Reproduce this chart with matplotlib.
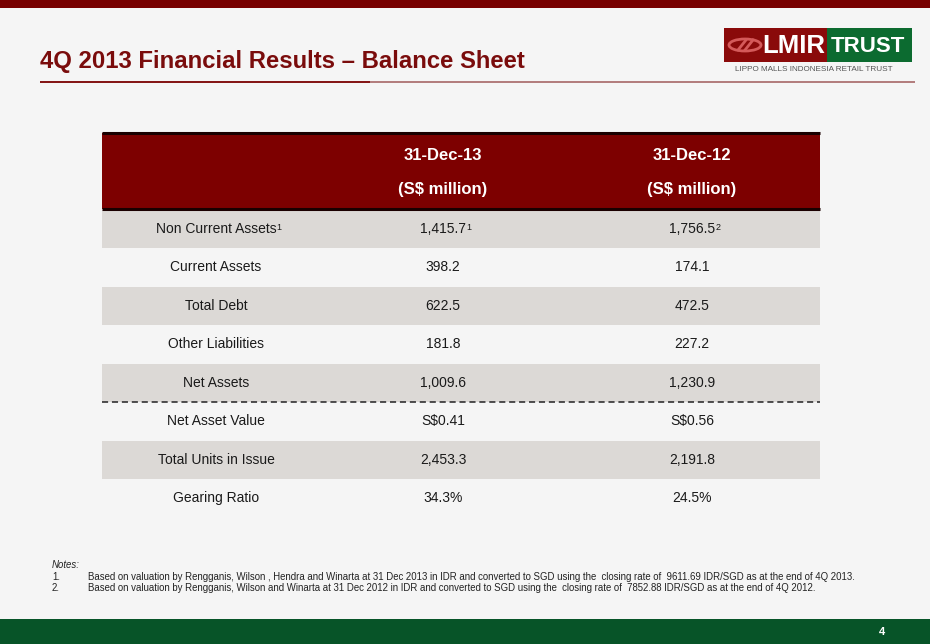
import matplotlib
matplotlib.use("Agg")
import matplotlib.pyplot as plt
from matplotlib.patches import Rectangle, Ellipse

# ---------------- data ----------------
title = "4Q 2013 Financial Results \u2013 Balance Sheet"
col_headers = ["31-Dec-13", "31-Dec-12"]
col_unit = "(S$ million)"
row_labels = ["Non Current Assets", "Current Assets", "Total Debt", "Other Liabilities",
              "Net Assets", "Net Asset Value", "Total Units in Issue", "Gearing Ratio"]
label_sups = ["1", "", "", "", "", "", "", ""]
dec13_values = ["1,415.7", "398.2", "622.5", "181.8", "1,009.6", "S$0.41", "2,453.3", "34.3%"]
dec13_sups = ["1", "", "", "", "", "", "", ""]
dec12_values = ["1,756.5", "174.1", "472.5", "227.2", "1,230.9", "S$0.56", "2,191.8", "24.5%"]
dec12_sups = ["2", "", "", "", "", "", "", ""]
notes_title = "Notes:"
note_numbers = ["1.", "2."]
note_texts = [
    "Based on valuation by Rengganis, Wilson , Hendra and Winarta at 31 Dec 2013 in IDR and converted to SGD using the  closing rate of  9611.69 IDR/SGD as at the end of 4Q 2013.",
    "Based on valuation by Rengganis, Wilson and Winarta at 31 Dec 2012 in IDR and converted to SGD using the  closing rate of  7852.88 IDR/SGD as at the end of 4Q 2012.",
]
page_number = "4"
logo_left = "LMIR"
logo_right = "TRUST"
logo_sub = "LIPPO MALLS INDONESIA RETAIL TRUST"

# ---------------- style ----------------
BG = "#f5f5f5"
DARK_RED = "#7d0000"
TITLE_RED = "#7a0c0c"
ROW_GREY = "#dcd9d6"
GREEN = "#075428"
FONT = ["Liberation Sans", "DejaVu Sans"]

plt.rcParams["font.family"] = FONT

fig = plt.figure(figsize=(9.3, 6.44), dpi=100, facecolor=BG)
ax = fig.add_axes([0, 0, 1, 1])
ax.set_xlim(0, 930)
ax.set_ylim(644, 0)
ax.axis("off")
ax.set_facecolor(BG)

# top / bottom bands
ax.add_patch(Rectangle((0, 0), 930, 8, color="#780000", lw=0))
ax.add_patch(Rectangle((0, 619), 930, 25, color=GREEN, lw=0))
ax.text(882, 632, page_number, color="white", fontsize=8, fontweight="bold",
        ha="center", va="center")

# title
ax.text(40, 61, title, color=TITLE_RED, fontsize=17.2, fontweight="bold",
        ha="left", va="center")
ax.plot([40, 370], [82, 82], color="#7a0000", lw=1.3, solid_capstyle="butt")
ax.plot([370, 915], [82, 82], color="#a05a5a", lw=1.1, solid_capstyle="butt")

# logo
ax.add_patch(Rectangle((724, 28), 103, 34, color="#8a0a0a", lw=0))
ax.add_patch(Rectangle((827, 28), 85, 34, color="#0c6b30", lw=0))
ax.add_patch(Ellipse((745, 45), 32, 12, fill=False, ec="#d45a5a", lw=2))
ax.plot([738, 746], [50, 40], color="#d45a5a", lw=2)
ax.plot([745, 753], [50, 40], color="#d45a5a", lw=2)
ax.text(794, 46, logo_left, color="white", fontsize=18.5, fontweight="bold",
        ha="center", va="center")
ax.text(868, 46, logo_right, color="white", fontsize=16, fontweight="bold",
        ha="center", va="center")
ax.text(814, 69, logo_sub, color="#555555", fontsize=5.9, ha="center", va="center")

# table geometry
tx0, tx1 = 102, 820
hy0, hy1 = 133, 209
row_h = 38.5
col_centers = [216, 443, 692]

ax.add_patch(Rectangle((tx0, hy0), tx1 - tx0, hy1 - hy0, color=DARK_RED, lw=0))
ax.plot([tx0, tx1], [hy0, hy0], color="#1a0000", lw=2.2, solid_capstyle="butt")
ax.plot([tx0, tx1], [hy1, hy1], color="#1a0000", lw=2.2, solid_capstyle="butt")
for cx, h in zip(col_centers[1:], col_headers):
    ax.text(cx, 155, h, color="white", fontsize=12, fontweight="bold",
            ha="center", va="center")
    ax.text(cx, 189, col_unit, color="white", fontsize=12, fontweight="bold",
            ha="center", va="center")

for i in range(len(row_labels)):
    y0 = hy1 + i * row_h
    if i % 2 == 0:
        ax.add_patch(Rectangle((tx0, y0 + 1), tx1 - tx0, row_h - 1, color=ROW_GREY, lw=0))

# dashed separator after "Net Assets"
sep_y = hy1 + 5 * row_h
ax.plot([tx0, tx1], [sep_y, sep_y], color="#222222", lw=1.1, ls=(0, (4, 2.5)))

fig.canvas.draw()
renderer = fig.canvas.get_renderer()
inv = ax.transData.inverted()

def cell(cx, cy, txt, sup):
    t = ax.text(cx, cy, txt, color="#1a1a1a", fontsize=10, ha="center", va="center")
    if sup:
        bb = t.get_window_extent(renderer)
        (x1, ytop) = inv.transform((bb.x1, bb.y1))
        ax.text(x1 + 0.5, ytop + 1, sup, color="#1a1a1a", fontsize=6.5,
                ha="left", va="top")

for i in range(len(row_labels)):
    cy = hy1 + i * row_h + row_h / 2 + 0.5
    cell(col_centers[0], cy, row_labels[i], label_sups[i])
    cell(col_centers[1], cy, dec13_values[i], dec13_sups[i])
    cell(col_centers[2], cy, dec12_values[i], dec12_sups[i])

# notes
ax.text(52, 565, notes_title, fontsize=6.9, style="italic",
        ha="left", va="center", color="#222222")
for k, (n, s) in enumerate(zip(note_numbers, note_texts)):
    y = 576.5 + k * 11.5
    ax.text(52, y, n, fontsize=6.9, ha="left", va="center", color="#222222")
    ax.text(88, y, s, fontsize=6.9, ha="left", va="center", color="#222222")

fig.savefig("out.png", dpi=100, facecolor=BG)
